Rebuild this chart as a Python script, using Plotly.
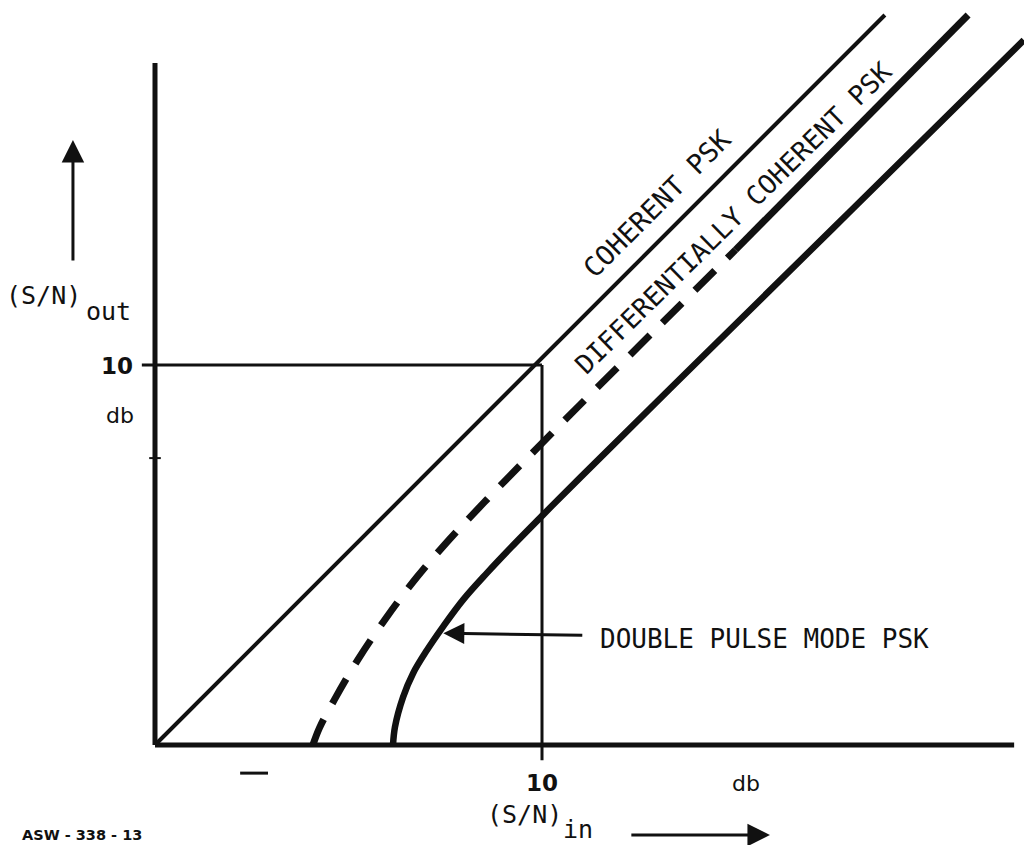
import plotly.graph_objects as go

# ---------------- data (in db) ----------------
REF_LEVEL = 10                      # the 10 db reference level on both axes
AXIS_X_MAX = 22.2                   # extent of the (S/N)in axis
AXIS_Y_MAX = 17.95                  # extent of the (S/N)out axis

coherent_x = [0.0, 18.86]
coherent_y = [0.0, 19.21]

diff_dashed_y = [0.00, 0.45, 1.18, 2.24, 3.37, 4.42, 5.39, 6.39, 7.50, 8.95, 11.05, 13.03]
diff_dashed_x = [4.08, 4.25, 4.63, 5.24, 5.99, 6.77, 7.59, 8.51, 9.57, 10.98, 13.05, 15.00]
diff_solid_x = [15.00, 21.01]
diff_solid_y = [13.03, 19.21]

double_y = [0.00, 0.47, 1.26, 1.89, 2.50, 3.11, 3.82, 4.53, 5.21, 6.05, 7.05, 10.00, 14.00, 18.55]
double_x = [6.15, 6.20, 6.41, 6.67, 7.03, 7.44, 7.96, 8.58, 9.21, 10.02, 11.00, 13.93, 17.92, 22.45]

tick_labels = ["10", "db"]
curve_labels = ["COHERENT PSK", "DIFFERENTIALLY COHERENT PSK", "DOUBLE PULSE MODE PSK"]
figure_id = "ASW - 338 - 13"

# ---------------- figure ----------------
BLACK = "#111111"
MONO = "DejaVu Sans Mono"
SANS = "DejaVu Sans"

fig = go.Figure()

def line(x, y, width, dash="solid", shape="linear"):
    fig.add_trace(go.Scatter(x=x, y=y, mode="lines", hoverinfo="skip",
                             line=dict(color=BLACK, width=width, dash=dash, shape=shape,
                                       smoothing=1.0)))

# axes
line([0, AXIS_X_MAX], [0, 0], 5)
line([0, 0], [0, AXIS_Y_MAX], 5)
# 10 db reference lines
line([-0.34, REF_LEVEL], [REF_LEVEL, REF_LEVEL], 3)
line([REF_LEVEL, REF_LEVEL], [REF_LEVEL, -0.4], 3)
# small marks
line([-0.15, 0.15], [7.55, 7.55], 2)
line([2.2, 2.92], [-0.74, -0.74], 3)

# curves
line(coherent_x, coherent_y, 4)
line(diff_dashed_x, diff_dashed_y, 7, dash="28px,18px", shape="spline")
line(diff_solid_x, diff_solid_y, 7)
line(double_x, double_y, 6.5, shape="spline")

ann = []
def text(x, y, t, size, font=MONO, angle=0, bold=False, xanchor="center"):
    ann.append(dict(x=x, y=y, xref="x", yref="y", text=(f"<b>{t}</b>" if bold else t),
                    showarrow=False, textangle=angle, xanchor=xanchor, yanchor="middle",
                    font=dict(family=font, size=size, color=BLACK)))

def arrow(x0, y0, x1, y1, width=3, size=1.5):
    ann.append(dict(x=x1, y=y1, ax=x0, ay=y0, xref="x", yref="y", axref="x", ayref="y",
                    text="", showarrow=True, arrowhead=2, arrowsize=size,
                    arrowwidth=width, arrowcolor=BLACK))

# rotated curve labels
text(12.97, 14.26, curve_labels[0], 27, angle=-45)
text(14.95, 13.87, curve_labels[1], 26.5, angle=-44.5)
# double pulse label with arrow
text(11.45, 2.79, curve_labels[2], 26, xanchor="left")
arrow(11.08, 2.89, 7.45, 2.94, width=3, size=1.4)

# y axis label
text(-2.89, 11.82, "(S/N)", 25)
text(-1.21, 11.40, "out", 25)
arrow(-2.12, 12.71, -2.12, 15.92, width=3, size=1.5)
text(-0.98, 9.97, tick_labels[0], 23, font=SANS, bold=True)
text(-0.90, 8.68, tick_labels[1], 22, font=SANS)

# x axis label
text(REF_LEVEL, -1.00, tick_labels[0], 23, font=SANS, bold=True)
text(15.27, -1.00, tick_labels[1], 22, font=SANS)
text(9.56, -1.84, "(S/N)", 25)
text(10.93, -2.22, "in", 25)
arrow(12.27, -2.37, 15.89, -2.37, width=3, size=1.5)

# figure id
text(-1.89, -2.36, figure_id, 14.5, font=SANS, bold=True)

fig.update_layout(
    width=1024, height=845, autosize=False,
    margin=dict(l=0, r=0, t=0, b=0),
    paper_bgcolor="white", plot_bgcolor="white",
    showlegend=False,
    xaxis=dict(range=[-155 / 38.7, (1024 - 155) / 38.7], visible=False, fixedrange=True),
    yaxis=dict(range=[(745 - 845) / 38.0, 745 / 38.0], visible=False, fixedrange=True),
    annotations=ann,
)

fig.write_html("out.html", config={"displayModeBar": False},
               post_script="document.body.style.margin='0';document.body.style.overflow='hidden';")
